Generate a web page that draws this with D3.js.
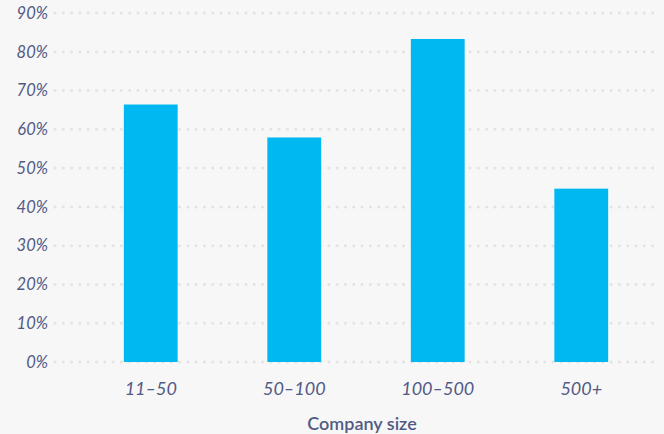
<!DOCTYPE html>
<html>
<head>
<meta charset="utf-8">
<script src="https://cdn.jsdelivr.net/npm/d3@7"></script>
<style>
  html, body { margin: 0; padding: 0; background: #f7f7f7; }
  svg { display: block; }
</style>
</head>
<body>
<svg id="chart" width="664" height="434"></svg>
<script>
const categories = ["11–50", "50–100", "100–500", "500+"];
const values = [0.664, 0.579, 0.833, 0.447];
const yTicks = [0, 0.1, 0.2, 0.3, 0.4, 0.5, 0.6, 0.7, 0.8, 0.9];
const xTitle = "Company size";

const W = 664, H = 434;
const svg = d3.select("#chart");
svg.append("rect").attr("width", W).attr("height", H).attr("fill", "#f7f7f7");

const textColor = "#525a84";
const font = "Lato, 'Open Sans', sans-serif";

const x = d3.scaleBand().domain(categories).range([79, 653]).paddingInner(0.625).paddingOuter(0.3125);
const y = d3.scaleLinear().domain([0, 0.9]).range([362, 13]);

// grid
const grid = svg.append("g");
grid.selectAll("line").data(yTicks).join("line")
  .attr("x1", 55).attr("x2", 656)
  .attr("y1", d => y(d)).attr("y2", d => y(d))
  .attr("stroke", "#e3e3e3").attr("stroke-width", 3)
  .attr("stroke-linecap", "round").attr("stroke-dasharray", "0 8.3");

// y axis
const yAxis = d3.axisLeft(y).tickValues(yTicks).tickFormat(d3.format(".0%")).tickSize(0).tickPadding(0);
const ga = svg.append("g").attr("transform", "translate(48,0)").call(yAxis);
ga.select(".domain").remove();
ga.selectAll("text").attr("fill", textColor).attr("font-family", font)
  .attr("font-style", "italic").attr("font-size", 16.5);

// bars
svg.append("g").selectAll("rect").data(values).join("rect")
  .attr("x", (d, i) => x(categories[i]))
  .attr("width", x.bandwidth())
  .attr("y", d => y(d))
  .attr("height", d => y(0) - y(d))
  .attr("fill", "#00b8f1");

// x axis
const xAxis = d3.axisBottom(x).tickSize(0).tickPadding(0);
const gx = svg.append("g").attr("transform", "translate(0,382)").call(xAxis);
gx.select(".domain").remove();
gx.selectAll("text").attr("fill", textColor).attr("font-family", font)
  .attr("font-style", "italic").attr("font-size", 18);

svg.append("text").attr("x", 362).attr("y", 430)
  .attr("text-anchor", "middle").attr("fill", textColor)
  .attr("font-family", font).attr("font-weight", 600).attr("font-size", 18)
  .text(xTitle);
</script>
</body>
</html>
